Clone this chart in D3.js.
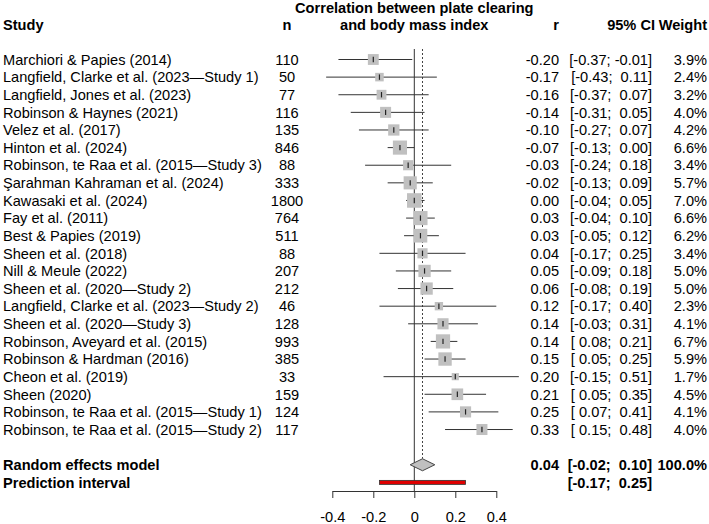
<!DOCTYPE html>
<html>
<head>
<meta charset="utf-8">
<script src="https://cdn.jsdelivr.net/npm/d3@7"></script>
<style>
  body { margin: 0; background: #fff; }
  svg text { font-family: "Liberation Sans", Arial, sans-serif; font-size: 14.6px; fill: #000; white-space: pre; }
  .bold { font-weight: bold; }
</style>
</head>
<body>
<svg id="chart" width="709" height="524"></svg>
<script>
const studies = [
  'Marchiori & Papies (2014)',
  'Langfield, Clarke et al. (2023\u2014Study 1)',
  'Langfield, Jones et al. (2023)',
  'Robinson & Haynes (2021)',
  'Velez et al. (2017)',
  'Hinton et al. (2024)',
  'Robinson, te Raa et al. (2015\u2014Study 3)',
  '\u015earahman Kahraman et al. (2024)',
  'Kawasaki et al. (2024)',
  'Fay et al. (2011)',
  'Best & Papies (2019)',
  'Sheen et al. (2018)',
  'Nill & Meule (2022)',
  'Sheen et al. (2020\u2014Study 2)',
  'Langfield, Clarke et al. (2023\u2014Study 2)',
  'Sheen et al. (2020\u2014Study 3)',
  'Robinson, Aveyard et al. (2015)',
  'Robinson & Hardman (2016)',
  'Cheon et al. (2019)',
  'Sheen (2020)',
  'Robinson, te Raa et al. (2015\u2014Study 1)',
  'Robinson, te Raa et al. (2015\u2014Study 2)'
];
const sampleSizes = [110, 50, 77, 116, 135, 846, 88, 333, 1800, 764, 511, 88, 207, 212, 46, 128, 993, 385, 33, 159, 124, 117];
const estimates = [-0.20, -0.17, -0.16, -0.14, -0.10, -0.07, -0.03, -0.02, 0.00, 0.03, 0.03, 0.04, 0.05, 0.06, 0.12, 0.14, 0.14, 0.15, 0.20, 0.21, 0.25, 0.33];
const lowerCI = [-0.37, -0.43, -0.37, -0.31, -0.27, -0.13, -0.24, -0.13, -0.04, -0.04, -0.05, -0.17, -0.09, -0.08, -0.17, -0.03, 0.08, 0.05, -0.15, 0.05, 0.07, 0.15];
const upperCI = [-0.01, 0.11, 0.07, 0.05, 0.07, 0.00, 0.18, 0.09, 0.05, 0.10, 0.12, 0.25, 0.18, 0.19, 0.40, 0.31, 0.21, 0.25, 0.51, 0.35, 0.41, 0.48];
const weights = [3.9, 2.4, 3.2, 4.0, 4.2, 6.6, 3.4, 5.7, 7.0, 6.6, 6.2, 3.4, 5.0, 5.0, 2.3, 4.1, 6.7, 5.9, 1.7, 4.5, 4.1, 4.0];

const pooledEstimate = 0.04;
const pooledCI = [-0.02, 0.10];
const pooledWeight = 100.0;
const predictionInterval = [-0.17, 0.25];
const axisTicks = [-0.4, -0.2, 0, 0.2, 0.4];

const ROW0 = 59.5, ROW_STEP = 17.62;
const COL = {study: 3, n: 287, r: 559, ci: 652, weight: 707};

const svg = d3.select('#chart');

const x = d3.scaleLinear().domain([-0.4, 0.4]).range([332.3, 496.3]);
const y = d3.scaleLinear().domain([0, 1]).range([ROW0, ROW0 + ROW_STEP]);

const fmt = d3.format('.2f');
const num = v => fmt(v).replace('\u2212', '-');
const pad = v => (v < 0 ? '' : ' ') + num(v);
const ciText = (lo, hi) => '[' + pad(lo) + '; ' + pad(hi) + ']';

const rows = studies.map((s, i) => ({
  study: s, n: sampleSizes[i], r: estimates[i],
  lo: lowerCI[i], hi: upperCI[i], w: weights[i], row: i
}));
const reRow = rows.length + 1;
const piRow = rows.length + 2;

// headers
const header = svg.append('g');
header.append('text').attr('class', 'bold').attr('x', COL.study).attr('y', 25).attr('dy', '0.36em').text('Study');
header.append('text').attr('class', 'bold').attr('x', COL.n).attr('y', 25).attr('dy', '0.36em')
  .attr('text-anchor', 'middle').text('n');
header.append('text').attr('class', 'bold').attr('x', x(0)).attr('y', 8).attr('dy', '0.36em')
  .attr('text-anchor', 'middle').text('Correlation between plate clearing');
header.append('text').attr('class', 'bold').attr('x', x(0)).attr('y', 25).attr('dy', '0.36em')
  .attr('text-anchor', 'middle').text('and body mass index');
header.append('text').attr('class', 'bold').attr('x', COL.r).attr('y', 25).attr('dy', '0.36em')
  .attr('text-anchor', 'end').text('r');
header.append('text').attr('class', 'bold').attr('x', COL.ci + 3).attr('y', 25).attr('dy', '0.36em')
  .attr('text-anchor', 'end').text('95% CI');
header.append('text').attr('class', 'bold').attr('x', COL.weight).attr('y', 25).attr('dy', '0.36em')
  .attr('text-anchor', 'end').text('Weight');

// reference lines
const topY = 49;
svg.append('line')
  .attr('x1', x(0)).attr('x2', x(0))
  .attr('y1', topY).attr('y2', 491)
  .attr('stroke', '#333').attr('stroke-width', 1);
svg.append('line')
  .attr('x1', x(pooledEstimate)).attr('x2', x(pooledEstimate))
  .attr('y1', topY).attr('y2', y(reRow) - 6)
  .attr('stroke', '#444').attr('stroke-width', 1)
  .attr('stroke-dasharray', '2,2');

// study rows
const study = svg.selectAll('.study')
  .data(rows)
  .enter().append('g')
    .attr('class', 'study');

study.append('line')
  .attr('x1', d => x(d.lo)).attr('x2', d => x(d.hi))
  .attr('y1', d => y(d.row)).attr('y2', d => y(d.row))
  .attr('stroke', '#333').attr('stroke-width', 1);

const side = d => 5.5 * Math.sqrt(d.w);
study.append('rect')
  .attr('x', d => x(d.r) - side(d) / 2)
  .attr('y', d => y(d.row) - side(d) / 2)
  .attr('width', side).attr('height', side)
  .attr('fill', '#c0c0c0');

study.append('line')
  .attr('x1', d => x(d.r)).attr('x2', d => x(d.r))
  .attr('y1', d => y(d.row) - 2.7).attr('y2', d => y(d.row) + 2.7)
  .attr('stroke', '#222').attr('stroke-width', 1.2);

study.append('text').attr('x', COL.study).attr('y', d => y(d.row)).attr('dy', '0.36em').text(d => d.study);
study.append('text').attr('x', COL.n).attr('y', d => y(d.row)).attr('dy', '0.36em')
  .attr('text-anchor', 'middle').text(d => d.n);
study.append('text').attr('x', COL.r).attr('y', d => y(d.row)).attr('dy', '0.36em')
  .attr('text-anchor', 'end').text(d => num(d.r));
study.append('text').attr('x', COL.ci).attr('y', d => y(d.row)).attr('dy', '0.36em')
  .attr('text-anchor', 'end').text(d => ciText(d.lo, d.hi));
study.append('text').attr('x', COL.weight).attr('y', d => y(d.row)).attr('dy', '0.36em')
  .attr('text-anchor', 'end').text(d => d.w.toFixed(1) + '%');

// random effects model
const yRe = y(reRow);
svg.append('path')
  .attr('d', d3.line()([
    [x(pooledCI[0]), yRe], [x(pooledEstimate), yRe - 6],
    [x(pooledCI[1]), yRe], [x(pooledEstimate), yRe + 6]
  ]) + 'Z')
  .attr('fill', '#c0c0c0').attr('stroke', '#444').attr('stroke-width', 1);

svg.append('text').attr('class', 'bold').attr('x', COL.study).attr('y', yRe).attr('dy', '0.36em').text('Random effects model');
svg.append('text').attr('class', 'bold').attr('x', COL.r).attr('y', yRe).attr('dy', '0.36em')
  .attr('text-anchor', 'end').text(num(pooledEstimate));
svg.append('text').attr('class', 'bold').attr('x', COL.ci).attr('y', yRe).attr('dy', '0.36em')
  .attr('text-anchor', 'end').text(ciText(pooledCI[0], pooledCI[1]));
svg.append('text').attr('class', 'bold').attr('x', COL.weight).attr('y', yRe).attr('dy', '0.36em')
  .attr('text-anchor', 'end').text(pooledWeight.toFixed(1) + '%');

// prediction interval
const yPi = y(piRow);
svg.append('rect')
  .attr('x', x(predictionInterval[0])).attr('y', yPi - 2)
  .attr('width', x(predictionInterval[1]) - x(predictionInterval[0])).attr('height', 4)
  .attr('fill', '#e00000').attr('stroke', '#333').attr('stroke-width', 0.8);
svg.append('text').attr('class', 'bold').attr('x', COL.study).attr('y', yPi).attr('dy', '0.36em').text('Prediction interval');
svg.append('text').attr('class', 'bold').attr('x', COL.ci).attr('y', yPi).attr('dy', '0.36em')
  .attr('text-anchor', 'end').text(ciText(predictionInterval[0], predictionInterval[1]));

// axis
const axis = svg.append('g')
  .attr('transform', 'translate(0,491)')
  .call(d3.axisBottom(x)
    .tickValues(axisTicks)
    .tickFormat(d => String(d))
    .tickSize(7)
    .tickSizeOuter(0)
    .tickPadding(14));
axis.select('.domain').attr('stroke', '#333');
axis.selectAll('.tick line').attr('stroke', '#333');
axis.selectAll('.tick text')
  .attr('font-family', null).attr('font-size', null)
  .style('font-family', '"Liberation Sans", Arial, sans-serif')
  .style('font-size', '14.6px');
</script>
</body>
</html>
